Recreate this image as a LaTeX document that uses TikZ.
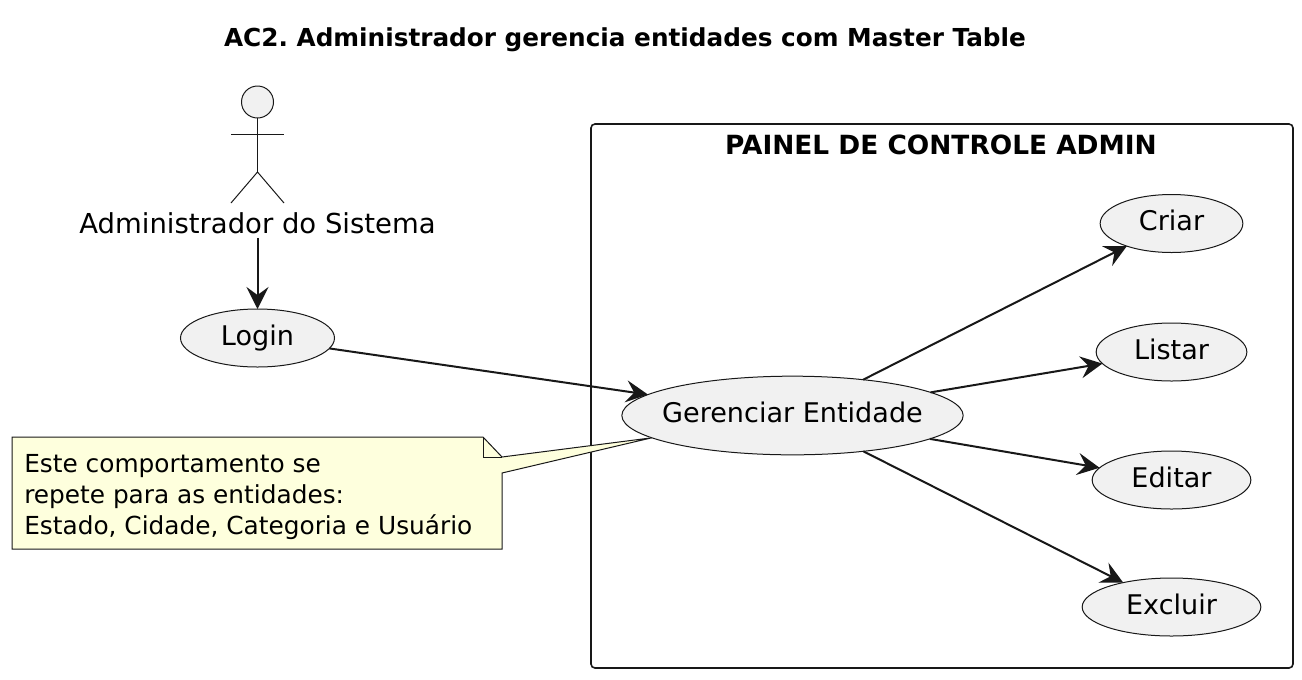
\documentclass[tikz,border=0pt]{standalone}
\usepackage{fontspec}
\setmainfont{DejaVu Sans}
\definecolor{UMLborda}{HTML}{181818}
\definecolor{UMLfundo}{HTML}{F1F1F1}
\definecolor{UMLnota}{HTML}{FEFFDD}
\usetikzlibrary{arrows.meta,shapes.geometric}
\begin{document}
\begin{tikzpicture}[
      x=0.75pt, y=-0.75pt,
      caso/.style={ellipse, draw=UMLborda, fill=UMLfundo, line width=0.75pt, inner sep=0pt, outer sep=0pt,
                   minimum height=43.5pt, text height=14pt, text depth=3.4pt, font=\fontsize{20.3}{24}\selectfont},
      flecha/.style={-{Stealth[length=16.5pt,width=16.5pt,inset=6pt]}, line width=1.5pt, draw=UMLborda, fill=UMLborda},
      traco/.style={draw=UMLborda, line width=0.75pt},
      rotulo/.style={inner sep=0pt, font=\fontsize{20.6}{24}\selectfont}
    ]
    \useasboundingbox (0,0) rectangle (1302,679);
    \node[font=\frenchspacing\bfseries\fontsize{18.55}{24}\selectfont, inner sep=0pt] (titulo) at (625,39.5) {AC2. Administrador gerencia entidades com Master Table};
    % painel
    \node[draw=UMLborda, line width=1.2pt, rounded corners=3pt, minimum width=526.5pt, minimum height=408pt, inner sep=0pt] (painel) at (942,396) {};
    \node[font=\bfseries\fontsize{19.8}{24}\selectfont, inner sep=0pt] (painelTitulo) at (941,145) {PAINEL DE CONTROLE ADMIN};
    % ator
    \node[circle, draw=UMLborda, fill=UMLfundo, line width=0.75pt, minimum size=24pt, inner sep=0pt, outer sep=0pt] (cabeca) at (257.5,102) {};
    \coordinate (quadril) at (257.5,172);
    \coordinate (ombroE) at (231,134);
    \coordinate (ombroD) at (284,134);
    \coordinate (peE) at (231,203);
    \coordinate (peD) at (284,203);
    \draw[traco] (cabeca) -- (quadril);
    \draw[traco] (ombroE) -- (ombroD);
    \draw[traco] (peE) -- (quadril) -- (peD);
    \node[rotulo, inner ysep=3pt] (admin) at (257.5,223) {Administrador do Sistema};
    % casos de uso
    \node[caso, minimum width=115.5pt] (login) at (257.5,338) {Login};
    \node[caso, minimum width=256pt, minimum height=59pt] (gerenciar) at (792.5,415.5) {\makebox[0pt]{Gerenciar Entidade}};
    \node[caso, minimum width=107pt] (criar) at (1171.5,223.5) {Criar};
    \node[caso, minimum width=113pt] (listar) at (1171.5,352) {Listar};
    \node[caso, minimum width=119pt] (editar) at (1171.5,480) {Editar};
    \node[caso, minimum width=134pt] (excluir) at (1171.5,607) {Excluir};
    % nota
    \node[minimum width=367.5pt, minimum height=84pt, inner sep=0pt, outer sep=0pt] (nota) at (257,493) {};
    \coordinate (dobraA) at (483,437);
    \coordinate (dobraB) at (502,457);
    \coordinate (dobraC) at (483,457);
    \coordinate (caudaB) at (502,473);
    \draw[traco, fill=UMLnota] (nota.north west) -- (dobraA) -- (dobraB) -- (gerenciar.189) -- (caudaB) -- (nota.south east) -- (nota.south west) -- cycle;
    \draw[traco] (dobraA) -- (dobraC) -- (dobraB);
    \node[rotulo, align=left, anchor=west, font=\fontsize{18.6}{23}\selectfont] (notaTexto) at (24,497) {Este comportamento se\\repete para as entidades:\\Estado, Cidade, Categoria e Usuário};
    % ligacoes
    \draw[flecha] (admin) -- (login);
    \draw[flecha] (login) -- (gerenciar);
    \draw[flecha] (gerenciar) -- (criar);
    \draw[flecha] (gerenciar) -- (listar);
    \draw[flecha] (gerenciar) -- (editar);
    \draw[flecha] (gerenciar) -- (excluir);
  \end{tikzpicture}
\end{document}
